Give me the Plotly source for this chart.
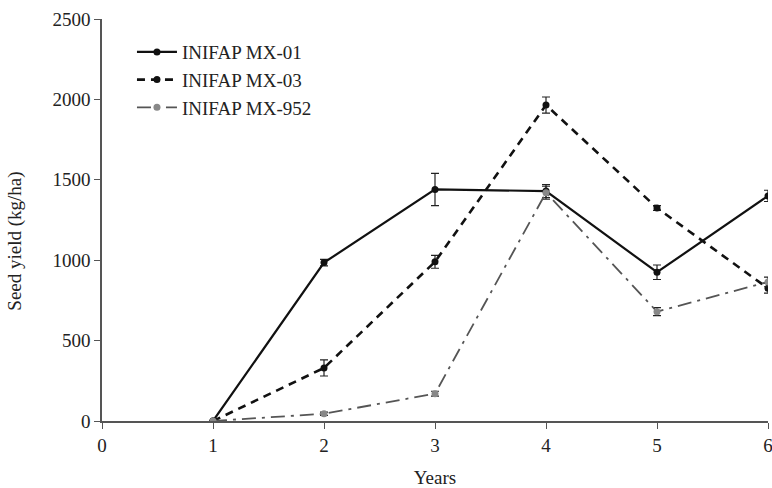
import plotly.graph_objects as go

years = [1, 2, 3, 4, 5, 6]
names = ["INIFAP MX-01", "INIFAP MX-03", "INIFAP MX-952"]
mx01 = [0, 985, 1440, 1430, 925, 1400]
mx01_err = [0, 20, 100, 40, 45, 35]
mx03 = [0, 330, 990, 1965, 1325, 825]
mx03_err = [0, 50, 40, 50, 15, 30]
mx952 = [0, 45, 170, 1420, 680, 865]
mx952_err = [0, 10, 15, 40, 25, 30]

x_ticks = [0, 1, 2, 3, 4, 5, 6]
y_ticks = [0, 500, 1000, 1500, 2000, 2500]

FONT = "Liberation Serif, Times New Roman, serif"

fig = go.Figure()
series = [
    (names[0], mx01, mx01_err, "#111111", "#111111", "solid", 2.2),
    (names[1], mx03, mx03_err, "#111111", "#111111", "8px,6px", 2.6),
    (names[2], mx952, mx952_err, "#555555", "#888888", "14px,6px,3px,6px", 1.8),
]
for name, vals, err, lc, mc, dash, w in series:
    fig.add_trace(go.Scatter(
        x=years, y=vals, name=name, mode="lines+markers",
        line=dict(color=lc, width=w, dash=dash),
        marker=dict(color=mc, size=7, symbol="circle"),
        error_y=dict(type="data", array=err, visible=True, color="#222222",
                     thickness=1.2, width=4),
    ))

fig.add_annotation(text="Seed yield (kg/ha)", xref="paper", yref="paper",
                   x=-0.131, y=0.448, textangle=-90, showarrow=False,
                   xanchor="center", yanchor="middle",
                   font=dict(size=19, family=FONT, color="#222222"))

fig.update_layout(
    width=772, height=488,
    margin=dict(l=102, r=4, t=19, b=67, autoexpand=False),
    paper_bgcolor="white", plot_bgcolor="white",
    font=dict(family=FONT, size=19, color="#222222"),
    showlegend=True,
    legend=dict(x=0.045, y=0.965, xanchor="left", yanchor="top",
                bgcolor="rgba(0,0,0,0)", font=dict(size=19, family=FONT),
                tracegroupgap=0, itemwidth=40),
    xaxis=dict(range=[0, 6], tickvals=x_ticks, showgrid=False, zeroline=False,
               showline=True, linecolor="#555555", linewidth=1.5,
               ticks="outside", ticklen=6, tickcolor="#555555",
               ticklabeloverflow="allow",
               title=dict(text="Years", font=dict(size=19, family=FONT), standoff=16),
               tickfont=dict(size=19, family=FONT)),
    yaxis=dict(range=[0, 2500], tickvals=y_ticks, showgrid=False, zeroline=False,
               showline=True, linecolor="#555555", linewidth=1.5,
               ticks="outside", ticklen=6, tickcolor="#555555",
               ticklabeloverflow="allow",
               tickfont=dict(size=19, family=FONT)),
)

fig.write_html("out.html", config={"displayModeBar": False},
               post_script="document.body.style.margin='0';document.body.style.overflow='hidden';")
